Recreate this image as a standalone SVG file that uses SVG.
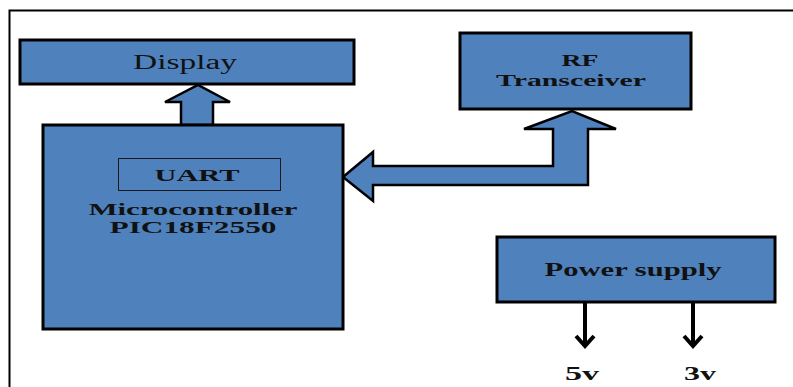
<svg xmlns="http://www.w3.org/2000/svg" width="793" height="387" viewBox="0 0 793 387">
<style>
.box{fill:#4F81BD;stroke:#000;stroke-width:3}
.arr{fill:#4F81BD;stroke:#000;stroke-width:2.5;stroke-linejoin:miter}
.t{font-family:"Liberation Serif",serif;fill:#111;text-anchor:middle}
.b{font-weight:bold}
.pw{stroke:#000;stroke-width:4;fill:none}
</style>
<rect width="793" height="387" fill="#fff"/>
<path d="M9.5,387 V10.5 H793" fill="none" stroke="#000" stroke-width="2"/>
<g id="connectors">
<path class="arr" d="M181,125 V102 H165 L198,85 L230,102 H213 V125 Z"/>
<path class="arr" d="M343,177 L373,152 V166 H553 V129 H524 L572,111 L616,129 H588 V185 H373 V201 Z"/>
<path class="pw" d="M585,303 V346 M576,336 L585,346 L594,336"/>
<path class="pw" d="M693,303 V346 M684,336 L693,346 L702,336"/>
</g>
<g id="display">
<rect class="box" x="20" y="40" width="334" height="44"/>
<text class="t" x="185" y="69" font-size="20" textLength="104" lengthAdjust="spacingAndGlyphs">Display</text>
</g>
<g id="microcontroller">
<rect class="box" x="43" y="125" width="300" height="204"/>
<rect x="118.5" y="158.5" width="162" height="32" fill="none" stroke="#1a1a1a" stroke-width="1"/>
<text class="t b" x="197" y="181" font-size="17" textLength="85" lengthAdjust="spacingAndGlyphs">UART</text>
<text class="t b" x="193" y="215" font-size="16" textLength="209" lengthAdjust="spacingAndGlyphs">Microcontroller</text>
<text class="t b" x="193" y="233" font-size="16" textLength="167" lengthAdjust="spacingAndGlyphs">PIC18F2550</text>
</g>
<g id="rf">
<rect class="box" x="460" y="33" width="231" height="76"/>
<text class="t b" x="580" y="66" font-size="17" textLength="37" lengthAdjust="spacingAndGlyphs">RF</text>
<text class="t b" x="571" y="86" font-size="17" textLength="150" lengthAdjust="spacingAndGlyphs">Transceiver</text>
</g>
<g id="power">
<rect class="box" x="497" y="237" width="278" height="65"/>
<text class="t b" x="633" y="276" font-size="18" textLength="177" lengthAdjust="spacingAndGlyphs">Power supply</text>
</g>
<text class="t b" x="582" y="380" font-size="18" textLength="34" lengthAdjust="spacingAndGlyphs">5v</text>
<text class="t b" x="700" y="380" font-size="18" textLength="32" lengthAdjust="spacingAndGlyphs">3v</text>
</svg>
